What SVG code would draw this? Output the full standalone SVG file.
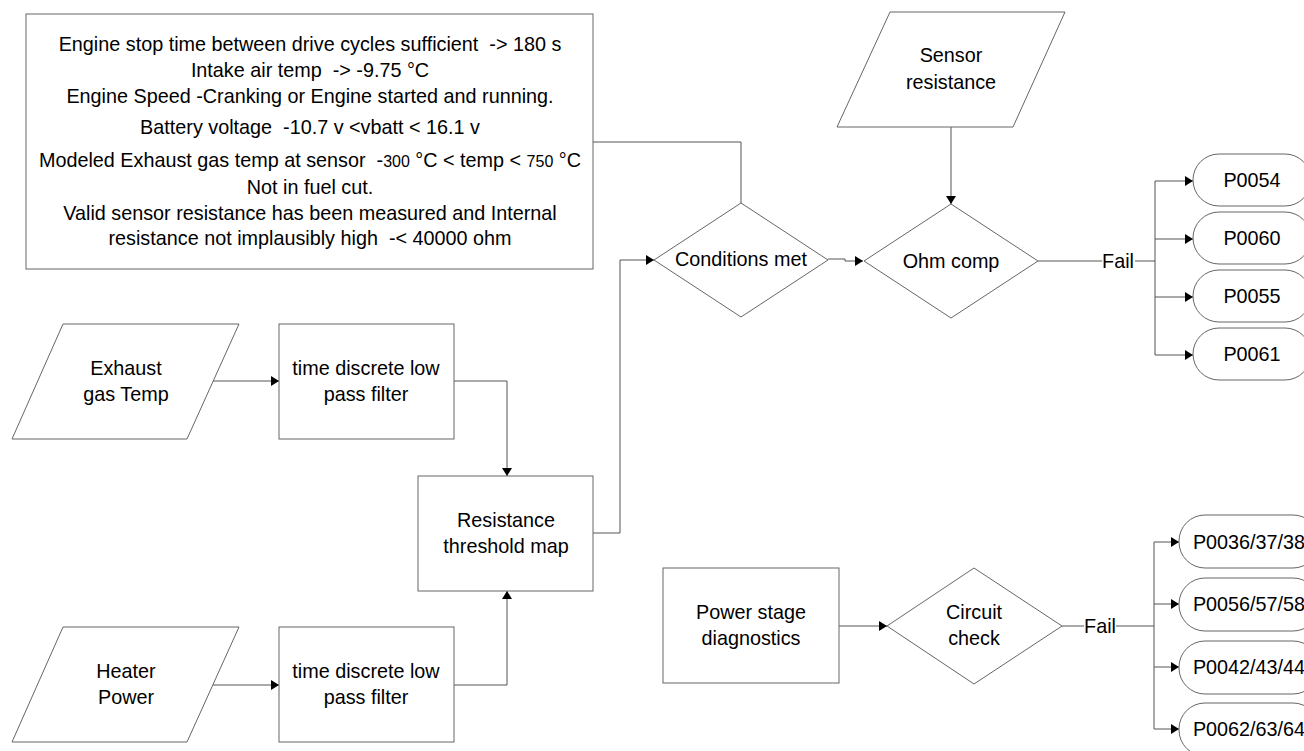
<svg xmlns="http://www.w3.org/2000/svg" width="1304" height="751" viewBox="0 0 1304 751">
<defs>
<marker id="arr" markerUnits="userSpaceOnUse" markerWidth="10" markerHeight="12" refX="8" refY="5" orient="auto">
<path d="M0,0 L8,5 L0,10 Z" fill="#000"/>
</marker>
<style>
.s{fill:#fff;stroke:#666;stroke-width:1}
.t{font-family:"Liberation Sans",Arial,sans-serif;font-size:19.8px;fill:#000;text-anchor:middle;white-space:pre}
.c{fill:none;stroke:#555;stroke-width:1}
.a{marker-end:url(#arr)}
</style>
</defs>
<rect width="1304" height="751" fill="#fff"/>

<g id="connectors">
<polyline class="c" points="593,142 741,142 741,203"/>
<polyline class="c a" points="213,381 279,381"/>
<polyline class="c a" points="213,685 279,685"/>
<polyline class="c a" points="454,381 507,381 507,476"/>
<polyline class="c a" points="454,685 507,685 507,591"/>
<polyline class="c a" points="593,533 620,533 620,260 654,260"/>
<polyline class="c a" points="828,259 845,259 845,261 863,261"/>
<polyline class="c a" points="951,127 951,204"/>
<polyline class="c" points="1038,261 1102,261"/>
<polyline class="c" points="1135,261 1155,261"/>
<polyline class="c" points="1155,181 1155,355"/>
<polyline class="c a" points="1155,181 1193,181"/>
<polyline class="c a" points="1155,239 1193,239"/>
<polyline class="c a" points="1155,297 1193,297"/>
<polyline class="c a" points="1155,355 1193,355"/>
<text class="t" x="1118" y="268">Fail</text>
<polyline class="c a" points="839,626 887,626"/>
<polyline class="c" points="1062,626 1084,626"/>
<polyline class="c" points="1116,626 1154,626"/>
<polyline class="c" points="1154,542 1154,729"/>
<polyline class="c a" points="1154,542 1179,542"/>
<polyline class="c a" points="1154,604 1179,604"/>
<polyline class="c a" points="1154,667 1179,667"/>
<polyline class="c a" points="1154,729 1179,729"/>
<text class="t" x="1100" y="633">Fail</text>
</g>

<g id="conditions">
<rect class="s" x="26" y="14" width="567" height="255"/>
<text class="t" x="310" y="51" xml:space="preserve">Engine stop time between drive cycles sufficient  -&gt; 180 s</text>
<text class="t" x="310" y="77" xml:space="preserve">Intake air temp  -&gt; -9.75 °C</text>
<text class="t" x="310" y="103" xml:space="preserve">Engine Speed -Cranking or Engine started and running.</text>
<text class="t" x="310" y="134" xml:space="preserve">Battery voltage  -10.7 v &lt;vbatt &lt; 16.1 v</text>
<text class="t" x="310" y="167" xml:space="preserve">Modeled Exhaust gas temp at sensor  -<tspan font-size="16px">300</tspan> °C &lt; temp &lt; <tspan font-size="16px">750</tspan> °C</text>
<text class="t" x="310" y="194" xml:space="preserve">Not in fuel cut.</text>
<text class="t" x="310" y="220" xml:space="preserve">Valid sensor resistance has been measured and Internal</text>
<text class="t" x="310" y="245" xml:space="preserve">resistance not implausibly high  -&lt; 40000 ohm</text>
</g>

<g id="sensor-resistance">
<polygon class="s" points="890,12 1065,12 1013,127 837,127"/>
<text class="t" x="951" y="62">Sensor</text>
<text class="t" x="951" y="89">resistance</text>
</g>

<g id="conditions-met">
<polygon class="s" points="741,203 828,260 741,317 654,260"/>
<text class="t" x="741" y="266">Conditions met</text>
</g>

<g id="ohm-comp">
<polygon class="s" points="951,204 1038,261 951,318 864,261"/>
<text class="t" x="951" y="268">Ohm comp</text>
</g>

<g id="exhaust-gas-temp">
<polygon class="s" points="63,324 239,324 187,439 12,439"/>
<text class="t" x="126" y="375">Exhaust</text>
<text class="t" x="126" y="401">gas Temp</text>
</g>

<g id="filter1">
<rect class="s" x="279" y="324" width="175" height="115"/>
<text class="t" x="366" y="375">time discrete low</text>
<text class="t" x="366" y="401">pass filter</text>
</g>

<g id="heater-power">
<polygon class="s" points="63,627 239,627 187,742 12,742"/>
<text class="t" x="126" y="678">Heater</text>
<text class="t" x="126" y="704">Power</text>
</g>

<g id="filter2">
<rect class="s" x="279" y="627" width="175" height="115"/>
<text class="t" x="366" y="678">time discrete low</text>
<text class="t" x="366" y="704">pass filter</text>
</g>

<g id="resistance-map">
<rect class="s" x="418" y="476" width="175" height="115"/>
<text class="t" x="506" y="527">Resistance</text>
<text class="t" x="506" y="553">threshold map</text>
</g>

<g id="p0054">
<rect class="s" x="1193" y="154" width="118" height="52" rx="26"/>
<text class="t" x="1252" y="187">P0054</text>
</g>
<g id="p0060">
<rect class="s" x="1193" y="212" width="118" height="52" rx="26"/>
<text class="t" x="1252" y="245">P0060</text>
</g>
<g id="p0055">
<rect class="s" x="1193" y="270" width="118" height="52" rx="26"/>
<text class="t" x="1252" y="303">P0055</text>
</g>
<g id="p0061">
<rect class="s" x="1193" y="328" width="118" height="52" rx="26"/>
<text class="t" x="1252" y="361">P0061</text>
</g>

<g id="power-stage">
<rect class="s" x="663" y="568" width="176" height="115"/>
<text class="t" x="751" y="619">Power stage</text>
<text class="t" x="751" y="645">diagnostics</text>
</g>

<g id="circuit-check">
<polygon class="s" points="974,568 1062,626 974,684 887,626"/>
<text class="t" x="974" y="619">Circuit</text>
<text class="t" x="974" y="645">check</text>
</g>

<g id="p0036">
<rect class="s" x="1179" y="515" width="140" height="53" rx="26"/>
<text class="t" x="1249" y="549">P0036/37/38</text>
</g>
<g id="p0056">
<rect class="s" x="1179" y="578" width="140" height="53" rx="26"/>
<text class="t" x="1249" y="611">P0056/57/58</text>
</g>
<g id="p0042">
<rect class="s" x="1179" y="641" width="140" height="53" rx="26"/>
<text class="t" x="1249" y="674">P0042/43/44</text>
</g>
<g id="p0062">
<rect class="s" x="1179" y="703" width="140" height="53" rx="26"/>
<text class="t" x="1249" y="736">P0062/63/64</text>
</g>
</svg>
